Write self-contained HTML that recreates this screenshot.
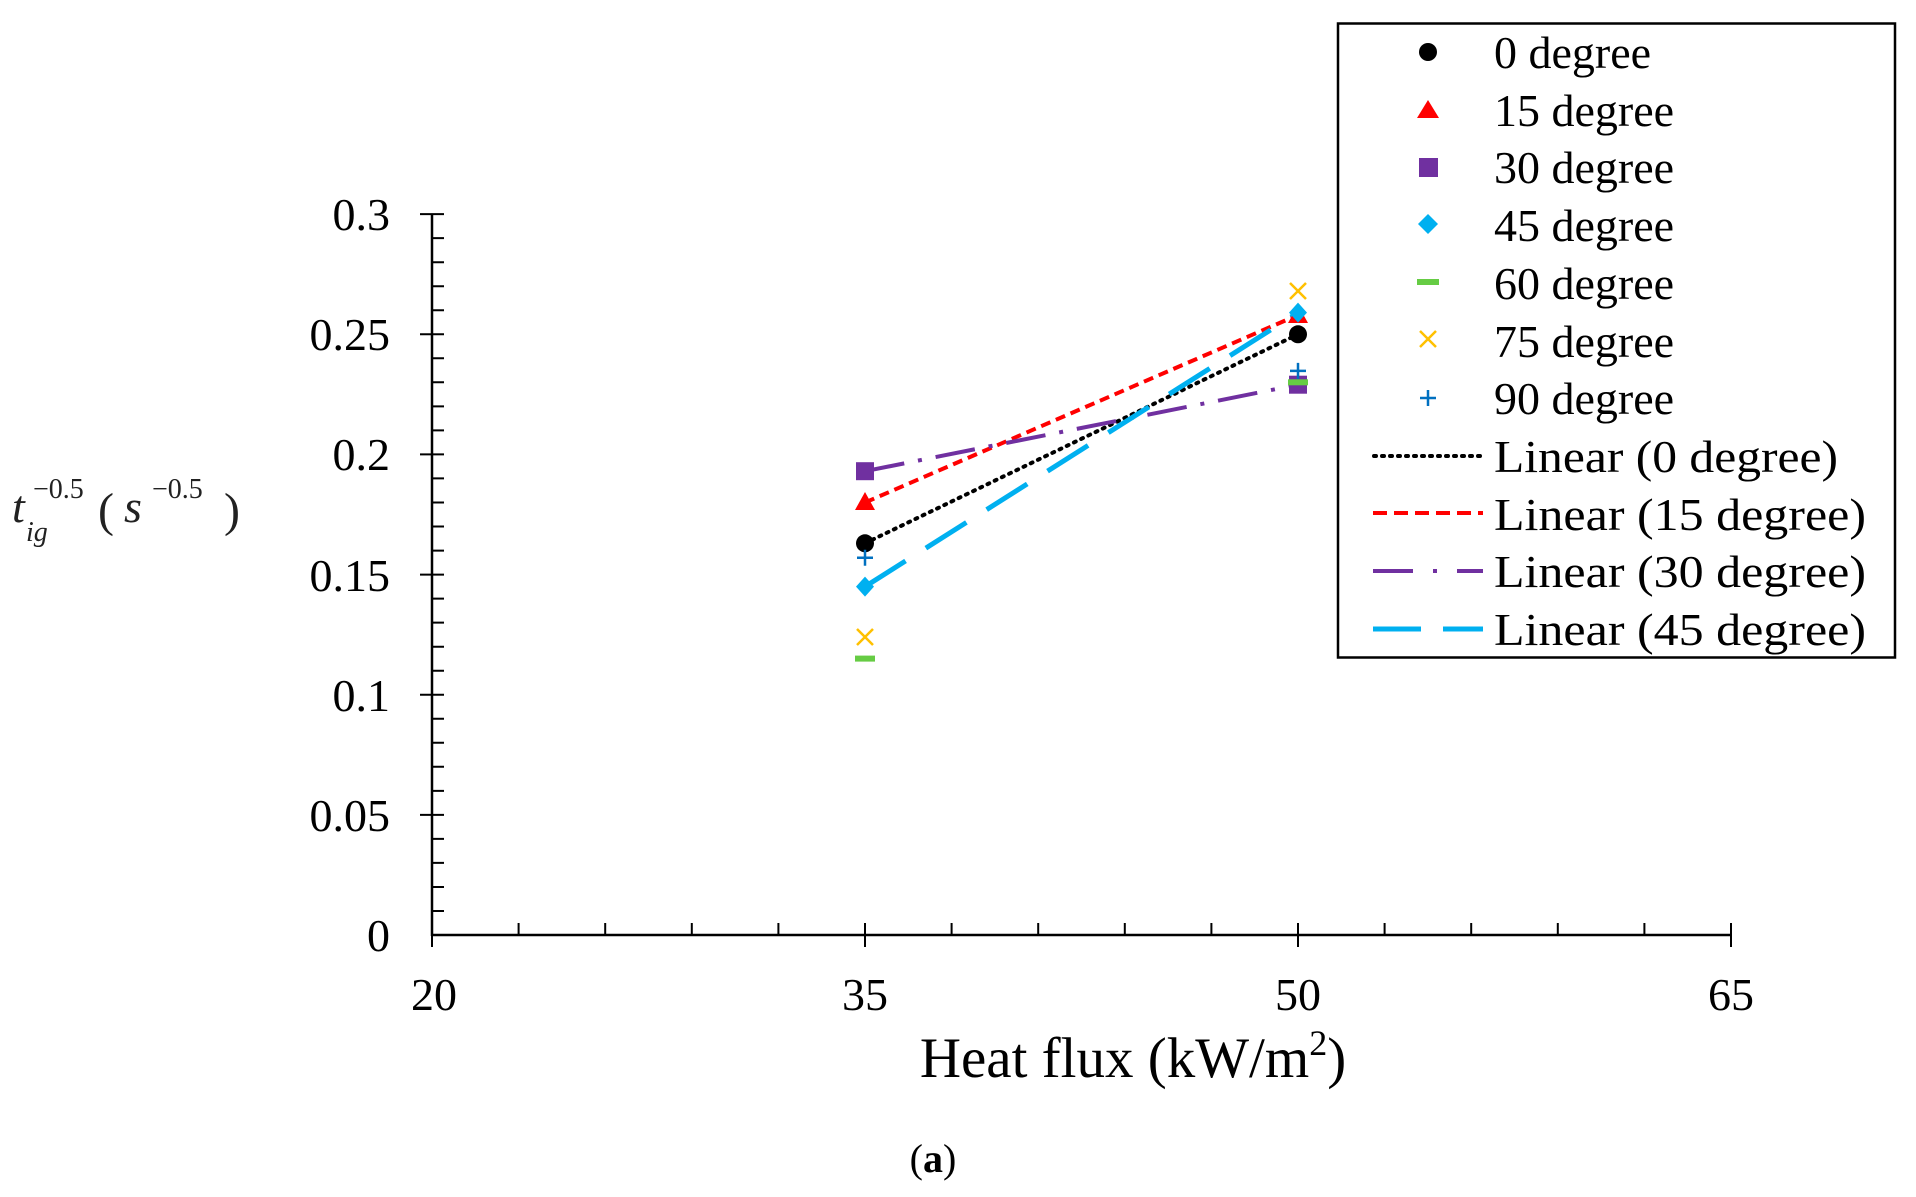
<!DOCTYPE html>
<html><head><meta charset="utf-8"><style>html,body{margin:0;padding:0;background:#fff}svg{display:block}</style></head>
<body>
<svg width="1916" height="1197" viewBox="0 0 1916 1197" xmlns="http://www.w3.org/2000/svg" font-family="'Liberation Serif',serif">
<rect width="1916" height="1197" fill="#fff"/>
<g stroke="#000" stroke-width="2.5" fill="none">
<line x1="432" y1="214" x2="432" y2="936"/>
<line x1="431" y1="935" x2="1731" y2="935"/>
</g>
<g stroke="#000" stroke-width="2">
<line x1="420" y1="214.1" x2="444" y2="214.1"/>
<line x1="420" y1="334.3" x2="444" y2="334.3"/>
<line x1="420" y1="454.4" x2="444" y2="454.4"/>
<line x1="420" y1="574.6" x2="444" y2="574.6"/>
<line x1="420" y1="694.7" x2="444" y2="694.7"/>
<line x1="420" y1="814.9" x2="444" y2="814.9"/>
<path d="M432 238.1h12M432 262.2h12M432 286.2h12M432 310.3h12M432 358.3h12M432 382.3h12M432 406.4h12M432 430.4h12M432 478.4h12M432 502.5h12M432 526.5h12M432 550.6h12M432 598.6h12M432 622.6h12M432 646.7h12M432 670.7h12M432 718.7h12M432 742.8h12M432 766.8h12M432 790.9h12M432 838.9h12M432 862.9h12M432 887h12M432 911h12"/>
<line x1="432" y1="923" x2="432" y2="947"/>
<line x1="865" y1="923" x2="865" y2="947"/>
<line x1="1298" y1="923" x2="1298" y2="947"/>
<line x1="1731" y1="923" x2="1731" y2="947"/>
<path d="M518.6 923v12M605.2 923v12M691.8 923v12M778.4 923v12M951.6 923v12M1038.2 923v12M1124.8 923v12M1211.4 923v12M1384.6 923v12M1471.2 923v12M1557.8 923v12M1644.4 923v12"/>
</g>
<g font-size="46" fill="#000" text-anchor="end">
<text x="390" y="230">0.3</text>
<text x="390" y="350">0.25</text>
<text x="390" y="470">0.2</text>
<text x="390" y="591">0.15</text>
<text x="390" y="711">0.1</text>
<text x="390" y="831">0.05</text>
<text x="390" y="951">0</text>
</g>
<g font-size="46" fill="#000" text-anchor="middle">
<text x="434" y="1010">20</text>
<text x="865" y="1010">35</text>
<text x="1298" y="1010">50</text>
<text x="1731" y="1010">65</text>
</g>
<text x="1133" y="1077" font-size="57" text-anchor="middle">Heat flux (kW/m<tspan dy="-22" font-size="36">2</tspan><tspan dy="22">)</tspan></text>
<text x="933" y="1172" font-size="40" text-anchor="middle">(<tspan font-weight="bold">a</tspan>)</text>
<g font-style="italic" fill="#222">
<text x="12" y="522" font-size="46">t</text>
<text x="26" y="541" font-size="28">ig</text>
<text x="33" y="498" font-size="28" font-style="normal">−0.5</text>
<text x="98" y="526" font-size="48" font-style="normal">(</text>
<text x="124" y="522" font-size="46">s</text>
<text x="152" y="498" font-size="28" font-style="normal">−0.5</text>
<text x="224" y="526" font-size="48" font-style="normal">)</text>
</g>
<line x1="865" y1="543.3" x2="1298" y2="334.3" stroke="#000" stroke-width="4" stroke-dasharray="2 6" stroke-linecap="round"/>
<line x1="865" y1="502.5" x2="1298" y2="315" stroke="#f00" stroke-width="4" stroke-dasharray="10 6"/>
<line x1="865" y1="471.2" x2="1298" y2="384.7" stroke="#7030a0" stroke-width="4" stroke-dasharray="40 14 4 14"/>
<line x1="865" y1="586.6" x2="1298" y2="312.6" stroke="#00b0f0" stroke-width="5" stroke-dasharray="48 24"/>
<g>
<circle cx="865" cy="543.3" r="9" fill="#000"/><circle cx="1298" cy="334.3" r="9" fill="#000"/>
<path d="M865 492l10 18h-20z" fill="#f00"/><path d="M1298 305l10 18h-20z" fill="#f00"/>
<rect x="856" y="462.2" width="18" height="18" fill="#7030a0"/><rect x="1289" y="375.7" width="18" height="18" fill="#7030a0"/>
<path d="M865 576.6l9 10l-9 10l-9-10z" fill="#00b0f0"/><path d="M1298 302.6l9 10l-9 10l-9-10z" fill="#00b0f0"/>
<rect x="855" y="655.6" width="20" height="6" fill="#66cc44"/><rect x="1288" y="379.3" width="20" height="6" fill="#66cc44"/>
<path d="M857 629l16 16M873 629l-16 16" stroke="#ffc000" stroke-width="2.5"/><path d="M1290 283l16 16M1306 283l-16 16" stroke="#ffc000" stroke-width="2.5"/>
<path d="M857 557.7h16M865 549.7v16" stroke="#0070c0" stroke-width="2.5"/><path d="M1290 370.9h16M1298 362.9v16" stroke="#0070c0" stroke-width="2.5"/>
</g>
<rect x="1338" y="23.5" width="557" height="634" fill="#fff" stroke="#000" stroke-width="2.5"/>
<g>
<circle cx="1428" cy="52" r="9" fill="#000"/>
<path d="M1428 100l11 18h-22z" fill="#f00"/>
<rect x="1419" y="158" width="19" height="19" fill="#7030a0"/>
<path d="M1428 214l10 10l-10 10l-10-10z" fill="#00b0f0"/>
<rect x="1417" y="279" width="22" height="6" fill="#66cc44"/>
<path d="M1420 331l16 16M1436 331l-16 16" stroke="#ffc000" stroke-width="2.5"/>
<path d="M1420 398h16M1428 390v16" stroke="#0070c0" stroke-width="2.5"/>
<line x1="1374" y1="456" x2="1480" y2="456" stroke="#000" stroke-width="4" stroke-dasharray="2 6" stroke-linecap="round"/>
<line x1="1373" y1="513" x2="1483" y2="513" stroke="#f00" stroke-width="4" stroke-dasharray="14 7"/>
<line x1="1373" y1="571" x2="1483" y2="571" stroke="#7030a0" stroke-width="4" stroke-dasharray="40 20 4 20"/>
<line x1="1373" y1="629" x2="1483" y2="629" stroke="#00b0f0" stroke-width="5" stroke-dasharray="48 22"/>
</g>
<g font-size="46" fill="#000">
<text x="1494" y="68">0 degree</text>
<text x="1494" y="126">15 degree</text>
<text x="1494" y="183">30 degree</text>
<text x="1494" y="241">45 degree</text>
<text x="1494" y="299">60 degree</text>
<text x="1494" y="357">75 degree</text>
<text x="1494" y="414">90 degree</text>
<text x="1494" y="472" textLength="344" lengthAdjust="spacingAndGlyphs">Linear (0 degree)</text>
<text x="1494" y="530" textLength="372" lengthAdjust="spacingAndGlyphs">Linear (15 degree)</text>
<text x="1494" y="587" textLength="372" lengthAdjust="spacingAndGlyphs">Linear (30 degree)</text>
<text x="1494" y="645" textLength="372" lengthAdjust="spacingAndGlyphs">Linear (45 degree)</text>
</g>
</svg>
</body></html>
